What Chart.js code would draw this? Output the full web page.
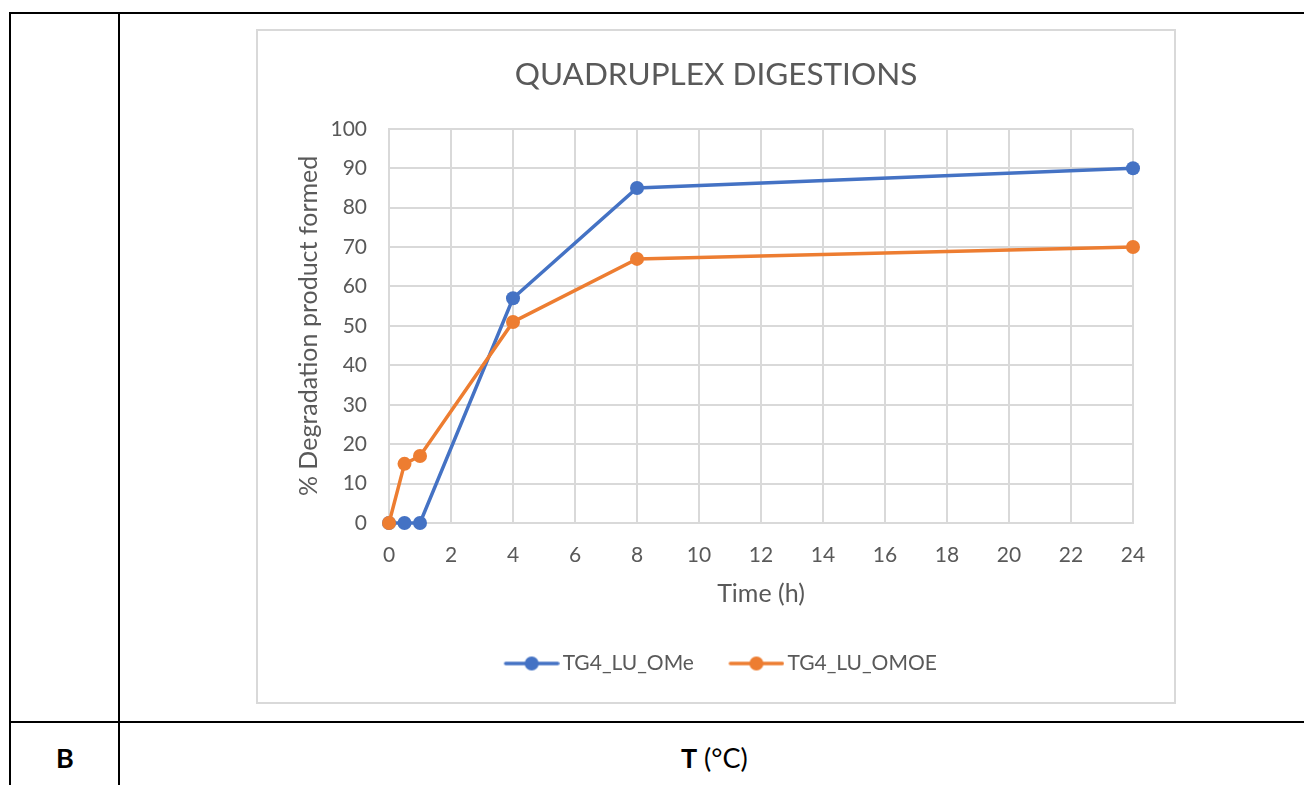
<!DOCTYPE html>
<html>
<head>
<meta charset="utf-8">
<script src="https://cdn.jsdelivr.net/npm/chart.js@4/dist/chart.umd.min.js"></script>
<style>
  html, body { margin: 0; padding: 0; background: #fff; }
  body { width: 1304px; height: 785px; position: relative; overflow: hidden; font-family: Lato, "Open Sans", sans-serif; }
  .rule { position: absolute; background: #000; }
  .frame { position: absolute; left: 256px; top: 29px; width: 916px; height: 671px; border: 2px solid #d9d9d9; }
  .frame canvas { position: absolute; left: 0; top: 0; }
  .cell { position: absolute; top: 740px; font-size: 27px; line-height: 36px; color: #000; }
</style>
</head>
<body>
<!-- table grid around the chart -->
<div class="rule" style="left:9px; top:12px; width:1295px; height:2px"></div>
<div class="rule" style="left:9px; top:12px; width:2px; height:773px"></div>
<div class="rule" style="left:118px; top:12px; width:2px; height:773px"></div>
<div class="rule" style="left:9px; top:721px; width:1295px; height:2px"></div>
<div class="cell" style="left:56px; font-weight:bold">B</div>
<div class="cell" style="left:681px"><b>T</b> (°C)</div>

<div class="frame"><canvas id="digestChart" width="916" height="671"></canvas></div>

<script>
// hours of digestion and % product for each modified quadruplex
const timeHours = [0, 0.5, 1, 4, 8, 24];
const omeValues = [0, 0, 0, 57, 85, 90];
const omoeValues = [0, 15, 17, 51, 67, 70];
const seriesNames = ["TG4_LU_OMe", "TG4_LU_OMOE"];
const seriesColors = ["#4472C4", "#ED7D31"];

const textColor = "#595959";
const gridColor = "#d9d9d9";

// legend symbol: short line with a dot in the middle,
// with some empty room on the left so the row sits a bit right
const markerGap = 16;
function lineMarker(color) {
  const c = document.createElement("canvas");
  c.width = 56 + markerGap;
  c.height = 16;
  const g = c.getContext("2d");
  g.strokeStyle = color;
  g.lineWidth = 3.5;
  g.lineCap = "round";
  g.beginPath();
  g.moveTo(markerGap + 2, 8);
  g.lineTo(markerGap + 54, 8);
  g.stroke();
  g.fillStyle = color;
  g.beginPath();
  g.arc(markerGap + 28, 8, 7, 0, Math.PI * 2);
  g.fill();
  return c;
}

function toPoints(values) {
  return timeHours.map((t, i) => ({ x: t, y: values[i] }));
}

Chart.defaults.font.family = "Lato, 'Open Sans', sans-serif";
Chart.defaults.color = textColor;

const ctx = document.getElementById("digestChart").getContext("2d");
new Chart(ctx, {
  type: "line",
  data: {
    datasets: [omeValues, omoeValues].map((vals, i) => ({
      label: seriesNames[i],
      data: toPoints(vals),
      borderColor: seriesColors[i],
      backgroundColor: seriesColors[i],
      borderWidth: 3.5,
      pointRadius: 7,
      pointHoverRadius: 7,
      pointBorderWidth: 0,
      tension: 0,
      clip: false,
      order: 1 - i
    }))
  },
  options: {
    responsive: false,
    animation: false,
    devicePixelRatio: 1,
    layout: { padding: { left: 0, right: 0, top: 0, bottom: 18 } },
    plugins: {
      title: {
        display: true,
        text: "QUADRUPLEX DIGESTIONS",
        color: textColor,
        font: { size: 31.5, weight: "normal" },
        padding: { top: 25, bottom: 35 }
      },
      legend: {
        position: "bottom",
        labels: {
          color: textColor,
          font: { size: 21 },
          usePointStyle: true,
          pointStyleWidth: 41 + markerGap,
          padding: 26,
          sort: (a, b) => a.datasetIndex - b.datasetIndex,
          generateLabels: (chart) => chart.data.datasets.map((ds, i) => ({
            text: ds.label,
            datasetIndex: i,
            pointStyle: lineMarker(seriesColors[i]),
            fillStyle: seriesColors[i],
            strokeStyle: seriesColors[i],
            lineWidth: 0,
            fontColor: textColor,
            hidden: false
          }))
        }
      },
      tooltip: { enabled: false }
    },
    scales: {
      x: {
        type: "linear",
        min: 0,
        max: 24,
        afterFit: (s) => { s.height = 104; },
        ticks: { stepSize: 2, padding: 20, color: textColor, font: { size: 21 } },
        grid: { color: gridColor, lineWidth: 2, drawTicks: false },
        border: { color: gridColor, width: 2 },
        title: {
          display: true,
          text: "Time (h)",
          color: textColor,
          font: { size: 25 },
          padding: { top: 0, bottom: 18 }
        }
      },
      y: {
        min: 0,
        max: 100,
        afterFit: (s) => { s.width = 131; },
        ticks: { stepSize: 10, padding: 22, color: textColor, font: { size: 21 } },
        grid: { color: gridColor, lineWidth: 2, drawTicks: false },
        border: { color: gridColor, width: 2 },
        title: {
          display: true,
          text: "% Degradation product formed",
          color: textColor,
          font: { size: 25 },
          padding: { top: 36, bottom: 0 }
        }
      },
      // empty right-hand strip so the plot ends short of the frame
      yRight: {
        position: "right",
        afterFit: (s) => { s.width = 41; },
        ticks: { display: false },
        grid: { display: false },
        border: { display: false }
      }
    }
  }
});
</script>
</body>
</html>
